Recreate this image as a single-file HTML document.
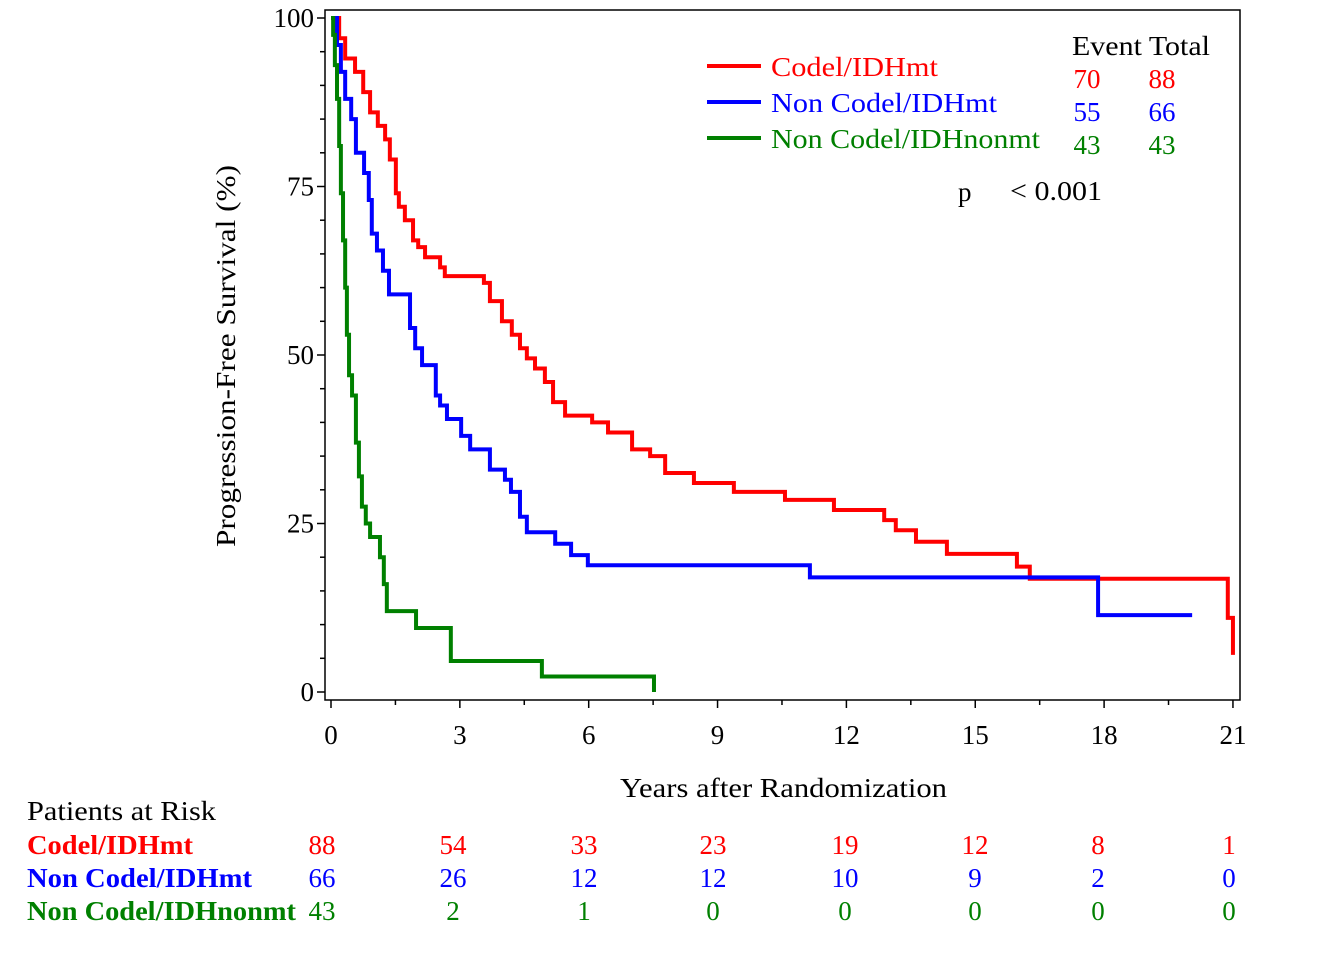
<!DOCTYPE html>
<html><head><meta charset="utf-8"><style>
body{margin:0;background:#fff;}
svg text{font-family:"Liberation Serif",serif;}
</style></head><body>
<svg id="c" width="1338" height="972" xmlns="http://www.w3.org/2000/svg"></svg>
<script>
const xTicks=[0,3,6,9,12,15,18,21];
const yTicks=[0,25,50,75,100];
const redT=[0,0.19,0.33,0.56,0.75,0.91,1.09,1.26,1.37,1.51,1.58,1.72,1.91,2.03,2.19,2.54,2.65,3.56,3.70,3.98,4.21,4.40,4.56,4.75,4.98,5.17,5.45,6.08,6.45,7.01,7.43,7.78,8.45,9.38,10.57,11.71,12.88,13.15,13.62,14.34,15.97,16.27,20.88,21.0];
const redS=[100,97,94,92,89,86,84,82,79,74,72,70,67,66,64.5,63,61.7,60.7,58,55,53,51,49.5,48,46,43,41,40,38.5,36,35,32.5,31,29.7,28.5,27,25.5,24,22.3,20.5,18.6,16.8,11,5.5];
const blueT=[0.05,0.14,0.23,0.33,0.47,0.58,0.77,0.88,0.95,1.07,1.21,1.35,1.84,1.96,2.12,2.44,2.54,2.70,3.03,3.24,3.70,4.05,4.19,4.40,4.56,5.22,5.59,5.98,11.15,17.86];
const blueS=[100,96,92,88,85,80,77,73,68,65.5,62.5,59,54,51,48.5,44,42.5,40.5,38,36,33,31.5,29.7,26,23.7,22,20.3,18.8,17,11.4];
const blueEnd=20.05;
const greenT=[0,0.05,0.09,0.14,0.19,0.23,0.28,0.33,0.37,0.42,0.49,0.58,0.65,0.72,0.81,0.91,1.14,1.23,1.30,1.98,2.79,4.91,7.52];
const greenS=[100,97.5,93,88,81,74,67,60,53,47,44,37,32,27.5,25,23,20,16,12,9.5,4.6,2.3,0];
const riskLabels=["Codel/IDHmt","Non Codel/IDHmt","Non Codel/IDHnonmt"];
const riskRed=[88,54,33,23,19,12,8,1];
const riskBlue=[66,26,12,12,10,9,2,0];
const riskGreen=[43,2,1,0,0,0,0,0];
const events=[70,55,43], totals=[88,66,43];
const colors=["#ff0000","#0000ff","#008000"];
const legendW=[167,226,269], riskLabW=[166,225,269];

const NS="http://www.w3.org/2000/svg", svg=document.getElementById('c');
const X=t=>331+t*42.95, Y=s=>692-s*6.74;
function el(tag,a,txt){const e=document.createElementNS(NS,tag);for(const k in a)e.setAttribute(k,a[k]);if(txt!==undefined)e.textContent=txt;svg.appendChild(e);return e;}
const LA='spacingAndGlyphs';
let f=el('rect',{x:325,y:10,width:915,height:690,fill:'none',stroke:'#000','stroke-width':1.5});

for(let t=0;t<=21;t+=1.5){let e=el('line',{x1:X(t),x2:X(t),y1:700,y2:t%3==0?708:705,stroke:'#000','stroke-width':1.5});
}
xTicks.forEach(t=>{let e=el('text',{x:X(t),y:744,'font-size':27,'text-anchor':'middle'},t);
});
for(let s=0;s<=100;s+=5){let e=el('line',{x1:s%25==0?317:320,x2:325,y1:Y(s),y2:Y(s),stroke:'#000','stroke-width':1.5});
}
yTicks.forEach(s=>{let e=el('text',{x:314,y:Y(s)+9,'font-size':27,'text-anchor':'end'},s);
});
let xt=el('text',{x:620,y:797,'font-size':27,textLength:327,lengthAdjust:LA},'Years after Randomization');

let yt=el('text',{x:-547,y:235,'font-size':27,textLength:382,lengthAdjust:LA,transform:'rotate(-90)'},'Progression-Free Survival (%)');

function stepPath(T,S,end){let d='M'+X(T[0])+' '+Y(S[0]);for(let i=1;i<T.length;i++){d+=' H'+X(T[i])+' V'+Y(S[i]);}if(end!==undefined)d+=' H'+X(end);return d;}
[[redT,redS,undefined,'red-curve'],[blueT,blueS,blueEnd,'blue-curve'],[greenT,greenS,undefined,'green-curve']].forEach((c,i)=>{
let p=el('path',{d:stepPath(c[0],c[1],c[2]),fill:'none',stroke:colors[i],'stroke-width':4});
});
let h=el('text',{x:1072,y:55,'font-size':27,textLength:138,lengthAdjust:LA},'Event Total');

riskLabels.forEach((lab,i)=>{const y=66+i*36;
let l=el('line',{x1:707,x2:761,y1:y,y2:y,stroke:colors[i],'stroke-width':4});

let t=el('text',{x:771,y:y+10,'font-size':27,fill:colors[i],textLength:legendW[i],lengthAdjust:LA},lab);

const ny=88+i*33;
let a=el('text',{x:1087,y:ny,'font-size':27,fill:colors[i],'text-anchor':'middle'},events[i]);

let b=el('text',{x:1162,y:ny,'font-size':27,fill:colors[i],'text-anchor':'middle'},totals[i]);
});
let pv=el('text',{x:958,y:201,'font-size':27},'p');

let pv2=el('text',{x:1010,y:200,'font-size':27,textLength:92,lengthAdjust:LA},'< 0.001');

let rt=el('text',{x:27,y:820,'font-size':27,textLength:189,lengthAdjust:LA},'Patients at Risk');

const riskX=[322,453,584,713,845,975,1098,1229];
[riskRed,riskBlue,riskGreen].forEach((row,i)=>{const y=854+i*33;
let l=el('text',{x:27,y:y,'font-size':27,'font-weight':'bold',fill:colors[i],textLength:riskLabW[i],lengthAdjust:LA},riskLabels[i]);

row.forEach((v,j)=>{let t=el('text',{x:riskX[j],y:y,'font-size':27,fill:colors[i],'text-anchor':'middle'},v);
});});
</script>
</body></html>
